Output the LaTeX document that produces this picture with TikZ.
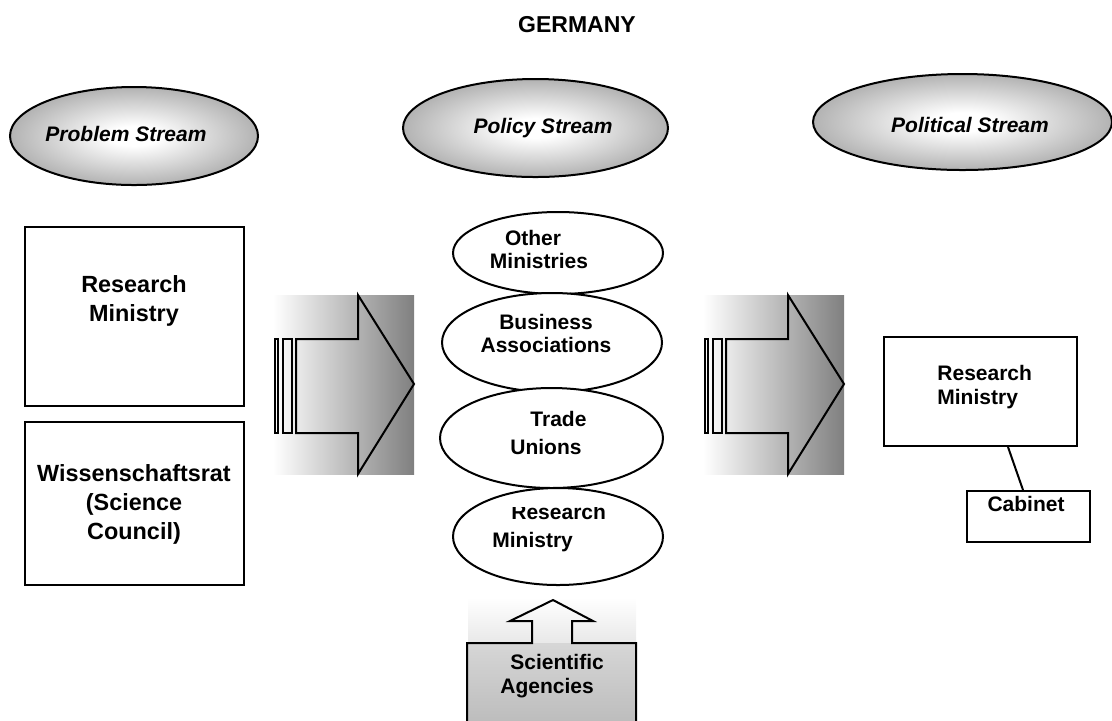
\documentclass[tikz,border=0pt]{standalone}
\usepackage{fontspec}
\setmainfont{Liberation Sans}
\usetikzlibrary{shapes.geometric,calc}
\pgfdeclareradialshading{streamshade}{\pgfpoint{0bp}{0bp}}{color(0bp)=(white); color(5bp)=(white); color(25bp)=(black!30); color(50bp)=(black!30)}
\begin{document}
\begin{tikzpicture}[x=0.5pt,y=-0.5pt,
  outl/.style={draw=black,line width=1pt},
  stream/.style={ellipse, outl, shading=streamshade, inner sep=0pt},
  streamtext/.style={inner sep=0pt, font=\fontsize{10.5}{12}\selectfont\bfseries\itshape},
  actor/.style={ellipse, outl, fill=white, inner sep=0pt},
  boxnode/.style={rectangle, outl, fill=white, inner sep=0pt},
  lbl/.style={inner sep=0pt, font=\fontsize{10.5}{11.5}\selectfont\bfseries},
  biglbl/.style={inner sep=0pt, align=center, font=\fontsize{11.7}{14.5}\selectfont\bfseries},
  arrowbg/.style={left color=white, right color=black!50},
  flow/.style={outl, line join=miter}]
\useasboundingbox (0,0) rectangle (1112,720);

% title
\node[inner sep=0pt, font=\fontsize{11.5}{13}\selectfont\bfseries] (title) at (577,25) {GERMANY};

% streams
\node[stream, minimum width=124pt, minimum height=49pt] (prob) at (134,136) {};
\node[streamtext] (probt) at (126,134) {Problem Stream};
\node[stream, minimum width=132.5pt, minimum height=49pt] (pol) at (535.5,128) {};
\node[streamtext] (polt) at (543,128) {Policy Stream};
\node[stream, minimum width=149.5pt, minimum height=48pt] (polit) at (962.5,122) {};
\node[streamtext] (politt) at (970,125) {Political Stream};

% left boxes
\node[boxnode, minimum width=109.5pt, minimum height=89.5pt] (rm1) at (134.5,316.5) {};
\node[biglbl] (rm1t) at (134,301) {Research\\Ministry};
\node[boxnode, minimum width=109.5pt, minimum height=81.5pt] (wr) at (134.5,503.5) {};
\node[biglbl] (wrt) at (134,504) {Wissenschaftsrat\\(Science\\Council)};

% left arrow
\shade[arrowbg] (273,295) rectangle (414,474);
\draw[flow] (296,339) -- (358,339) -- (358,295) -- (414,384) -- (358,474) -- (358,433) -- (296,433) -- cycle;
\draw[outl] (275,339) rectangle (278,433);
\draw[outl] (283,339) rectangle (292,433);

% right arrow
\shade[arrowbg] (703,295) rectangle (844,474);
\draw[flow] (726,339) -- (788,339) -- (788,295) -- (844,384) -- (788,474) -- (788,433) -- (726,433) -- cycle;
\draw[outl] (705,339) rectangle (708,433);
\draw[outl] (713,339) rectangle (722,433);

% middle actors
\node[actor, minimum width=105pt, minimum height=41pt] (om) at (558,253) {};
\node[lbl, align=center] (omt) at (539,249) {\hspace*{-6pt}Other\\Ministries};
\node[actor, minimum width=110pt, minimum height=49.5pt] (ba) at (552,342.5) {};
\node[lbl, align=center] (bat) at (546,333) {Business\\Associations};
\node[actor, minimum width=111.5pt, minimum height=50pt] (tu) at (551.5,438) {};
\node[lbl, align=left, anchor=west, font=\fontsize{10.5}{14}\selectfont\bfseries] (tut) at (510,433) {\hspace*{10pt}Trade\\Unions};
\node[actor, minimum width=105pt, minimum height=48.5pt] (rmm) at (558,536.5) {};
\begin{scope}
\clip (440,507) rectangle (670,590);
\node[lbl, align=left, anchor=west, font=\fontsize{10.5}{14}\selectfont\bfseries] (rmmt) at (492,528) {\hspace*{9.5pt}Research\\Ministry};
\end{scope}

% scientific agencies
\shade[top color=white, bottom color=black!9] (468,598) rectangle (636,643);
\shade[top color=black!16, bottom color=black!26] (467,643) rectangle (636,722);
\draw[flow] (467,722) -- (467,643) -- (532,643) -- (532,621) -- (510,621) -- (553,600) -- (593,621) -- (572,621) -- (572,643) -- (636,643) -- (636,722);
\node[lbl, align=left, anchor=west, font=\fontsize{10.5}{12}\selectfont\bfseries] (sat) at (500,676) {\hspace*{5pt}Scientific\\Agencies};

% right boxes
\node[boxnode, minimum width=96.5pt, minimum height=54.5pt] (rm2) at (980.5,391.5) {};
\node[lbl, align=left, anchor=west, font=\fontsize{10.5}{12}\selectfont\bfseries] (rm2t) at (937,387) {Research\\Ministry};
\node[boxnode, minimum width=61.5pt, minimum height=25.5pt] (cab) at (1028.5,516.5) {};
\node[lbl] (cabt) at (1026,504) {Cabinet};
\draw[outl] ($(rm2.south)+(27.5,0)$) -- ($(cab.north)+(-5.5,0)$);
\end{tikzpicture}
\end{document}
